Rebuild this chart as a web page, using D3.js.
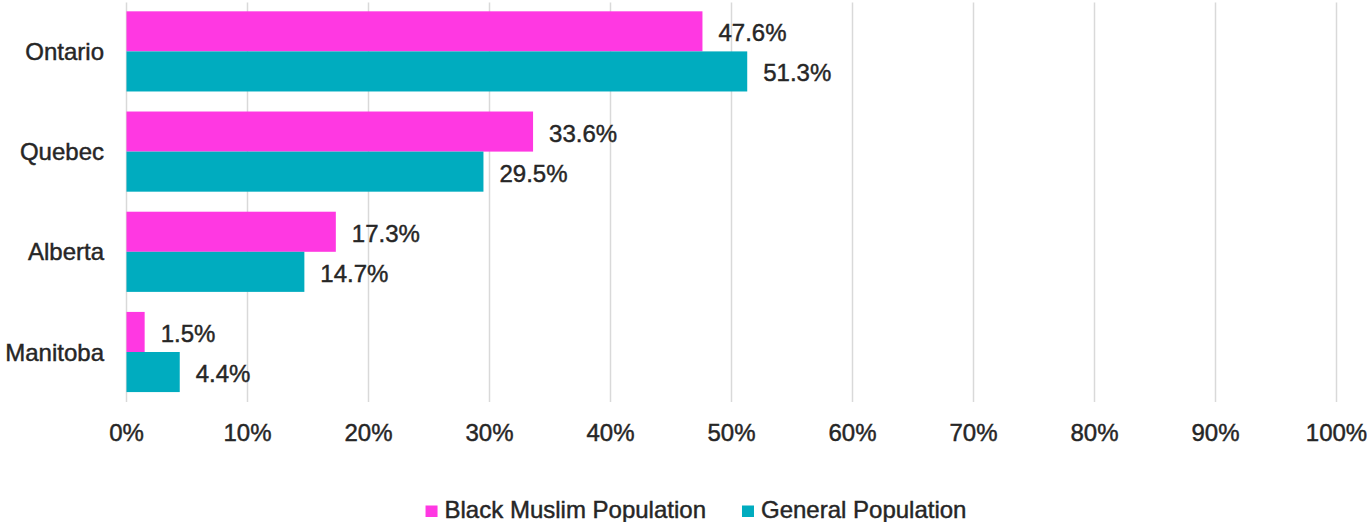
<!DOCTYPE html>
<html>
<head>
<meta charset="utf-8">
<script src="https://cdn.jsdelivr.net/npm/d3@7/dist/d3.min.js"></script>
<style>
  html, body { margin: 0; padding: 0; background: #ffffff; }
  svg { display: block; }
  text {
    font-family: "Liberation Sans", Arial, Helvetica, sans-serif;
    fill: #262626;
    stroke: #262626;
    stroke-width: 0.45px;
  }
</style>
</head>
<body>
<svg id="chart" width="1367" height="522"></svg>
<script>
// Share of population by province
const provinces = ["Ontario", "Quebec", "Alberta", "Manitoba"];
const seriesNames = ["Black Muslim Population", "General Population"];
const blackMuslim = [47.6, 33.6, 17.3, 1.5];
const general = [51.3, 29.5, 14.7, 4.4];
const tickValues = [0, 10, 20, 30, 40, 50, 60, 70, 80, 90, 100];
const colors = ["#ff38e2", "#00acbf"];

const svg = d3.select("#chart");
const fontSize = 24;

const x = d3.scaleLinear().domain([0, 100]).range([126.5, 1336.5]);
const y0 = d3.scaleBand().domain(provinces).range([1.3, 402.1])
  .paddingInner(0.2).paddingOuter(0.1);
const y1 = d3.scaleBand().domain(seriesNames).range([0, y0.bandwidth()]).padding(0);

// vertical gridlines
svg.append("g")
  .selectAll("line")
  .data(tickValues)
  .join("line")
  .attr("x1", d => x(d)).attr("x2", d => x(d))
  .attr("y1", 2.5).attr("y2", 402)
  .attr("stroke", "#d9d9d9")
  .attr("stroke-width", 1.5);

// x tick labels
svg.append("g")
  .selectAll("text")
  .data(tickValues)
  .join("text")
  .attr("x", d => x(d))
  .attr("y", 441)
  .attr("text-anchor", "middle")
  .style("font-size", fontSize + "px")
  .text(d => d + "%");

// category labels
svg.append("g")
  .selectAll("text")
  .data(provinces)
  .join("text")
  .attr("x", 104)
  .attr("y", d => y0(d) + y0.bandwidth() / 2 + 8.5)
  .attr("text-anchor", "end")
  .style("font-size", fontSize + "px")
  .text(d => d);

const rows = provinces.map((p, i) => ({
  province: p,
  values: [
    { series: seriesNames[0], value: blackMuslim[i], color: colors[0] },
    { series: seriesNames[1], value: general[i], color: colors[1] }
  ]
}));

const groups = svg.append("g")
  .selectAll("g")
  .data(rows)
  .join("g")
  .attr("transform", d => `translate(0,${y0(d.province)})`);

groups.selectAll("rect")
  .data(d => d.values)
  .join("rect")
  .attr("x", x(0))
  .attr("y", d => y1(d.series))
  .attr("width", d => x(d.value) - x(0))
  .attr("height", y1.bandwidth())
  .attr("fill", d => d.color);

groups.selectAll("text.val")
  .data(d => d.values)
  .join("text")
  .attr("class", "val")
  .attr("x", d => x(d.value) + 16)
  .attr("y", d => y1(d.series) + y1.bandwidth() / 2 + 10)
  .style("font-size", fontSize + "px")
  .text(d => d.value.toFixed(1) + "%");

// legend
const legend = svg.append("g");
const items = legend.selectAll("g")
  .data(seriesNames)
  .join("g");
items.append("rect")
  .attr("width", 12).attr("height", 11.5)
  .attr("y", 505.5)
  .attr("fill", (d, i) => colors[i]);
items.append("text")
  .attr("x", 19)
  .attr("y", 517.5)
  .style("font-size", fontSize + "px")
  .text(d => d);

// lay legend items out side by side, centred
const gap = 36;
let widths = [];
items.each(function () { widths.push(19 + this.querySelector("text").getComputedTextLength()); });
const total = d3.sum(widths) + gap * (widths.length - 1);
let cx = 696 - total / 2;
items.each(function (d, i) {
  d3.select(this).attr("transform", `translate(${cx},0)`);
  cx += widths[i] + gap;
});
</script>
</body>
</html>
